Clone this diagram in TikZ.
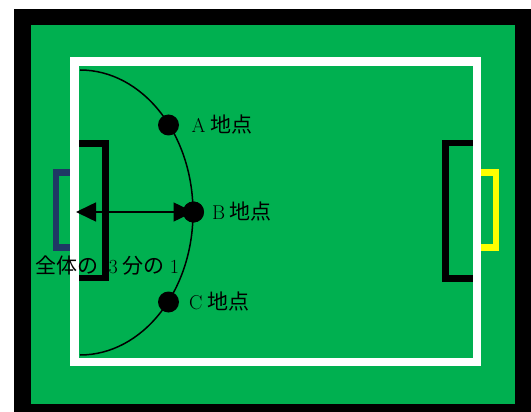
\documentclass[tikz,border=0pt]{standalone}
\usepackage{fontspec}
\newfontfamily\cjk[Scale=1.05]{Noto Sans CJK JP}
\usetikzlibrary{arrows.meta}
\definecolor{field}{HTML}{00B050}
\definecolor{navy}{HTML}{1F3864}
\definecolor{goalyellow}{HTML}{FFFF00}
\tikzset{
  dot/.style={circle,fill=black,inner sep=0pt,minimum size=21pt},
  lbl/.style={anchor=west,inner sep=0pt,font=\fontsize{20}{24}\selectfont},
  boxline/.style={line width=6.6pt,line cap=rect},
  curve/.style={line width=1.5pt,black},
}
\begin{document}
\begin{tikzpicture}[x=1pt,y=-1pt]
\useasboundingbox (0,0) rectangle (531,412);
\clip (0,0) rectangle (531,412);
% border and field
\fill[black] (14.2,9.3) rectangle (545,425);
\fill[field] (30.5,25) rectangle (515,404);
% goals and penalty boxes
\draw[boxline,navy] (74,172.7) -- (56,172.7) -- (56,247.3) -- (74,247.3);
\draw[boxline,black] (76,143.4) -- (105.3,143.4) -- (105.3,277.8) -- (76,277.8);
\draw[boxline,black] (477,143) -- (445.7,143) -- (445.7,278.7) -- (477,278.7);
\draw[boxline,goalyellow] (477,172.5) -- (495.8,172.5) -- (495.8,247.5) -- (477,247.5);
% white lines
\draw[white,line width=8.6pt] (74.7,61.7) rectangle (476.8,362);
% arc
\draw[curve] (80,70) arc[start angle=-90,end angle=90,x radius=113,y radius=142.5];
% points
\node[dot] (A) at (168.5,125) {};
\node[dot] (B) at (193.5,212) {};
\node[dot] (C) at (168.5,302) {};
\coordinate (L) at (76,212);
\draw[curve,{Triangle[length=20pt,width=19pt]}-{Triangle[length=20pt,width=19pt]}] (L) -- (B.center);
\node[dot] at (B) {};
% labels
\node[lbl] (la) at (191.5,125) {A\hspace{4.5pt}{\cjk 地点}};
\node[lbl] (lb) at (212,212) {B\hspace{4.5pt}{\cjk 地点}};
\node[lbl] (lc) at (189,302) {C\hspace{4.5pt}{\cjk 地点}};
\node[lbl] (lt) at (35.5,266) {{\cjk 全体の}\hspace{10pt}3\hspace{5pt}{\cjk 分の}\hspace{5pt}1};
\end{tikzpicture}
\end{document}
